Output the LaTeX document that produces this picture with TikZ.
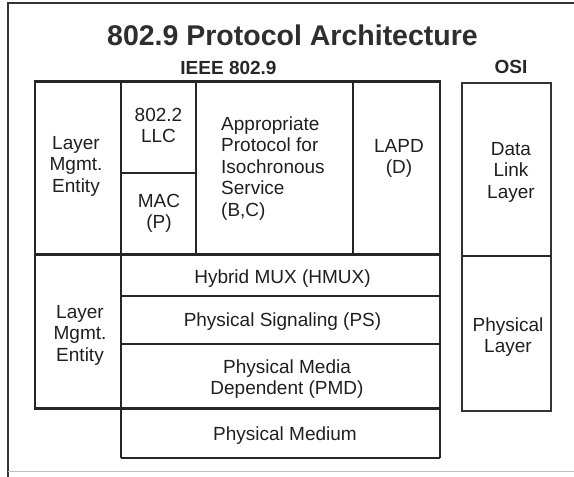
\documentclass[tikz,border=0pt]{standalone}
\usepackage{fontspec}
\setmainfont{Liberation Sans}
\newcommand{\celltext}[2][c]{\begin{tabular}[t]{@{}#1@{}}#2\end{tabular}}
\begin{document}
\begin{tikzpicture}[x=1pt,y=-1pt,
  txt/.style={anchor=base, inner sep=0pt, font=\fontsize{19}{21.5}\selectfont, text=black!88},
  hd/.style={anchor=base, inner sep=0pt, font=\fontsize{19}{21.5}\selectfont\bfseries, text=black!85},
  ttl/.style={anchor=base, inner sep=0pt, font=\fontsize{28.5}{30}\selectfont\bfseries, text=black!82},
  rule/.style={line width=1.4pt, draw=black!85},
  thick rule/.style={line width=3pt, draw=black!85},
  frame/.style={line width=1.8pt, draw=black!80},
  faint/.style={line width=1pt, draw=black!25}]
\useasboundingbox (0,0) rectangle (574,477);
% outer frame
\draw[frame] (8,477) -- (8,3) -- (574,3);
\draw[faint] (8,471) -- (574,471);
% IEEE block verticals
\draw[rule] (35,81) -- (35,408);
\draw[rule] (440,81) -- (440,458);
\draw[rule] (121,81) -- (121,458);
\draw[rule] (196,81) -- (196,254);
\draw[rule] (353,81) -- (353,254);
% thin horizontals
\draw[rule] (121,173) -- (196,173);
\draw[rule] (121,296) -- (440,296);
\draw[rule] (121,344) -- (440,344);
\draw[rule] (121,458) -- (440,458);
% thick horizontals
\draw[thick rule] (34,81) -- (441,81);
\draw[thick rule] (34,254) -- (441,254);
\draw[thick rule] (34,408) -- (441,408);
% OSI block
\draw[frame] (462,83) rectangle (551,411);
\draw[rule] (462,256) -- (551,256);
% texts
\node[ttl] (title) at (292.5,45) {802.9 Protocol Architecture};
\node[hd] (ieee) at (228.5,74) {IEEE 802.9};
\node[hd] (osi) at (511,73.5) {OSI};
\node[txt] (lme1) at (76,149) {\celltext{Layer\\Mgmt.\\Entity}};
\node[txt] (llc) at (158.5,121) {\celltext{802.2\\LLC}};
\node[txt] (mac) at (159,207) {\celltext{MAC\\(P)}};
\node[txt, anchor=base west] (iso) at (221,130) {\celltext[l]{Appropriate\\Protocol for\\Isochronous\\Service\\(B,C)}};
\node[txt] (lapd) at (399,152) {\celltext{LAPD\\(D)}};
\node[txt] (dll) at (511,155) {\celltext{Data\\Link\\Layer}};
\node[txt] (lme2) at (80,318) {\celltext{Layer\\Mgmt.\\Entity}};
\node[txt] (hmux) at (282.5,283) {Hybrid MUX (HMUX)};
\node[txt] (ps) at (282.5,326) {Physical Signaling (PS)};
\node[txt] (pmd) at (287,373) {\celltext{Physical Media\\Dependent (PMD)}};
\node[txt] (pm) at (285,440) {Physical Medium};
\node[txt] (phl) at (508,331) {\celltext{Physical\\Layer}};
\end{tikzpicture}
\end{document}
